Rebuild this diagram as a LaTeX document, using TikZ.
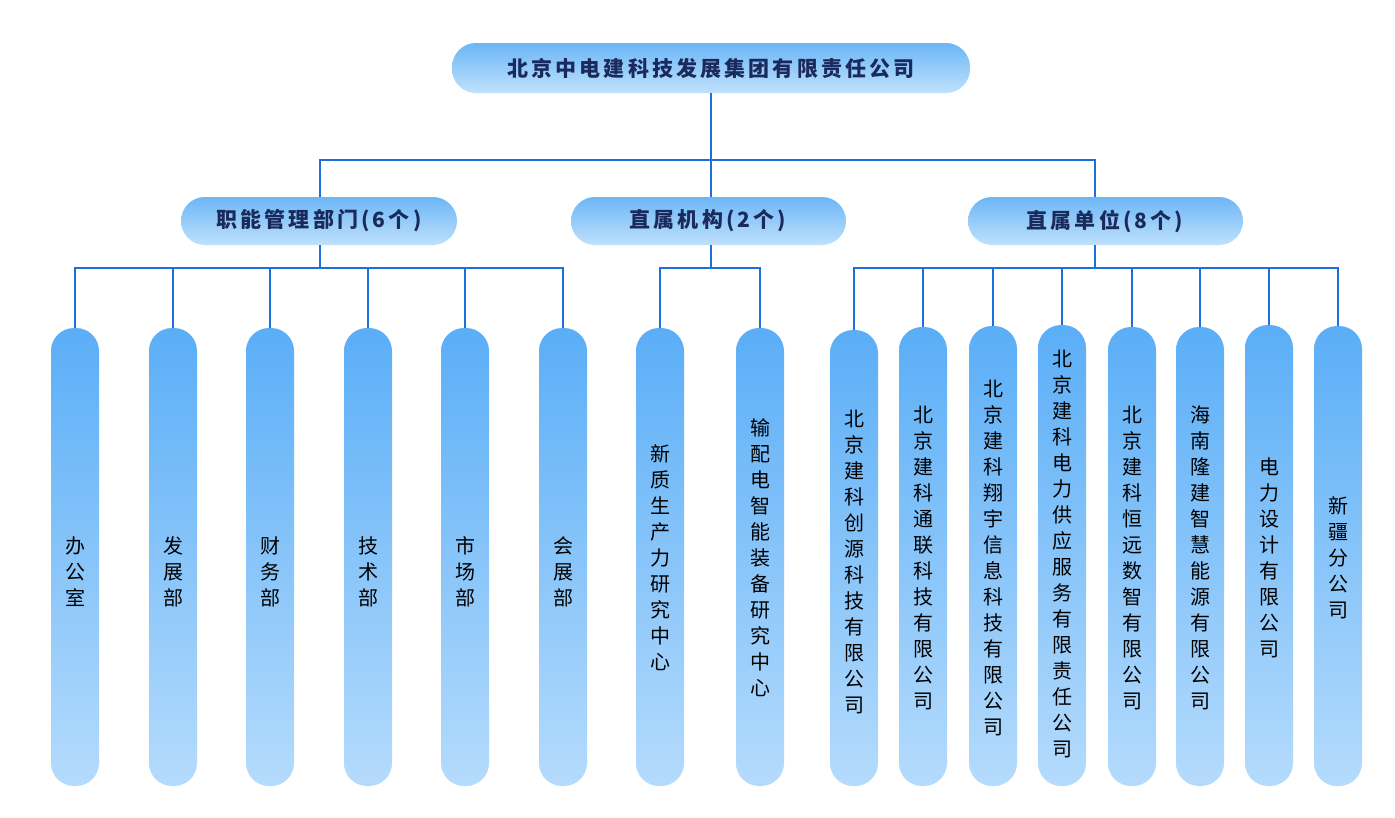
\documentclass[tikz,border=0pt]{standalone}
\usepackage{fontspec}
\newfontfamily\cjk{Noto Sans CJK SC}
\begin{document}
\begin{tikzpicture}[x=1pt,y=-1pt,
  link/.style={draw=lnk,line width=2pt},
  pill/.style={rounded corners=24pt,top color=pilltop,bottom color=pillbot,draw=none},
  col/.style={rounded corners=23pt,top color=coltop,bottom color=colbot,draw=none},
  head/.style={font=\cjk\bfseries\addfontfeature{LetterSpace=15}\fontsize{21}{25}\selectfont,text=navy},
  ctext/.style={font=\cjk\fontsize{20}{26}\selectfont,text=black,align=center,text width=30pt}]
\definecolor{lnk}{HTML}{1C6FDF}
\definecolor{pilltop}{HTML}{6CB6F6}
\definecolor{pillbot}{HTML}{BFE1FC}
\definecolor{coltop}{HTML}{5AAEF7}
\definecolor{colbot}{HTML}{B5DBFC}
\definecolor{navy}{HTML}{1B2A5C}
\useasboundingbox (0,0) rectangle (1395,817);
\fill[white] (0,0) rectangle (1395,817);
% top
\shade[pill] (452,43) rectangle (970,93);
\node[head] (top) at (711,68) {北京中电建科技发展集团有限责任公司};
% level 2
\shade[pill] (181,197) rectangle (457,245);
\node[head] (b1) at (319,221) {职能管理部门(6个)};
\shade[pill] (571,197) rectangle (846,245);
\node[head] (b2) at (708,221) {直属机构(2个)};
\shade[pill] (968,197) rectangle (1243,245);
\node[head] (b3) at (1105,221) {直属单位(8个)};
\coordinate (t0) at (711,93);
\coordinate (t1) at (711,160);
\draw[link] (t0) -- (t1);
\draw[link] (320,197) -- (320,160) -- (1095,160) -- (1095,197);
\draw[link] (711,160) -- (711,197);
% level 3 connectors
\draw[link] (320,245) -- (320,268);
\draw[link] (75,330) -- (75,268) -- (563,268) -- (563,330);
\foreach \x in {173,270,368,465} \draw[link] (\x,268) -- (\x,330);
\draw[link] (711,245) -- (711,268);
\draw[link] (660,330) -- (660,268) -- (760,268) -- (760,330);
\draw[link] (1095,245) -- (1095,268);
\draw[link] (854,330) -- (854,268) -- (1338,268) -- (1338,330);
\foreach \x in {923,993,1062,1132,1200,1269} \draw[link] (\x,268) -- (\x,330);
% columns
\foreach \x/\t/\n in {75/328/c1,173/328/c2,270/328/c3,368/328/c4,465/328/c5,563/328/c6,660/328/c7,760/328/c8,854/330/c9,923/327/c10,993/326/c11,1062/325/c12,1132/327/c13,1200/327/c14,1269/325/c15,1338/326/c16}{
  \shade[col] (\x-24,\t) rectangle (\x+24,786);
}
\node[ctext] (n1) at (75,572) {办\\公\\室};
\node[ctext] (n2) at (173,572) {发\\展\\部};
\node[ctext] (n3) at (270,572) {财\\务\\部};
\node[ctext] (n4) at (368,572) {技\\术\\部};
\node[ctext] (n5) at (465,572) {市\\场\\部};
\node[ctext] (n6) at (563,572) {会\\展\\部};
\node[ctext] (n7) at (660,558) {新\\质\\生\\产\\力\\研\\究\\中\\心};
\node[ctext] (n8) at (760,558) {输\\配\\电\\智\\能\\装\\备\\研\\究\\中\\心};
\node[ctext] (n9) at (854,562) {北\\京\\建\\科\\创\\源\\科\\技\\有\\限\\公\\司};
\node[ctext] (n10) at (923,558) {北\\京\\建\\科\\通\\联\\科\\技\\有\\限\\公\\司};
\node[ctext] (n11) at (993,558) {北\\京\\建\\科\\翔\\宇\\信\\息\\科\\技\\有\\限\\公\\司};
\node[ctext] (n12) at (1062,554) {北\\京\\建\\科\\电\\力\\供\\应\\服\\务\\有\\限\\责\\任\\公\\司};
\node[ctext] (n13) at (1132,558) {北\\京\\建\\科\\恒\\远\\数\\智\\有\\限\\公\\司};
\node[ctext] (n14) at (1200,558) {海\\南\\隆\\建\\智\\慧\\能\\源\\有\\限\\公\\司};
\node[ctext] (n15) at (1269,558) {电\\力\\设\\计\\有\\限\\公\\司};
\node[ctext] (n16) at (1338,558) {新\\疆\\分\\公\\司};
\end{tikzpicture}
\end{document}
